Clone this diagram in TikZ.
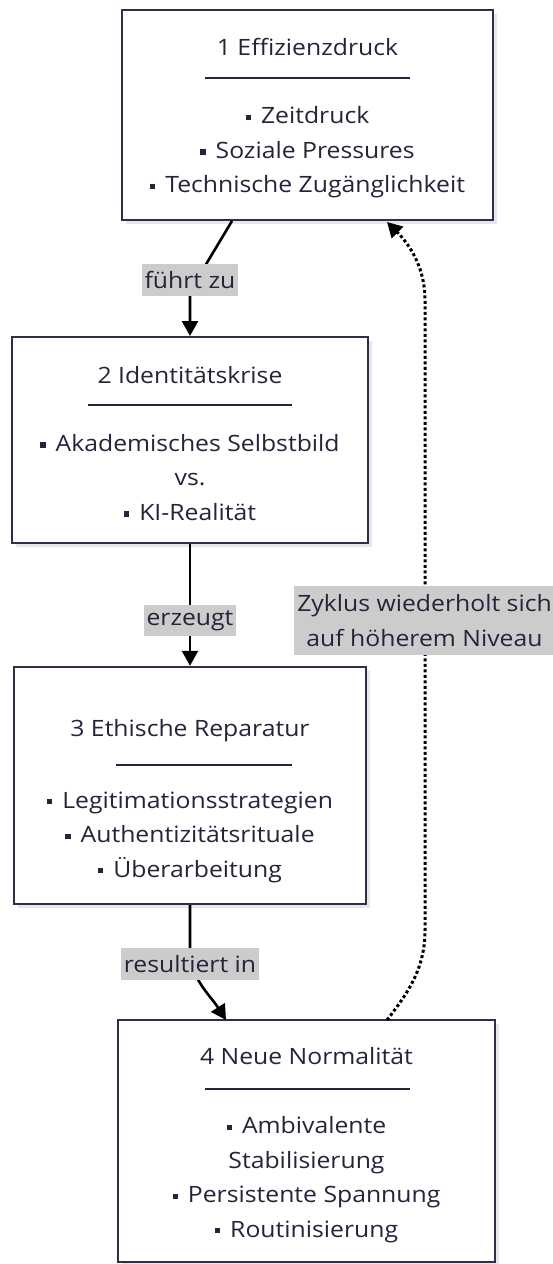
\documentclass[tikz,border=0pt]{standalone}
\usepackage{fontspec}
\setmainfont{Open Sans}[FakeStretch=1.1]
\usetikzlibrary{arrows.meta,shadows}
\definecolor{boxline}{HTML}{2E2E45}
\definecolor{txt}{HTML}{24243A}
\definecolor{lblbg}{HTML}{CCCCCC}
\definecolor{shad}{HTML}{E6E6EC}
\newcommand{\bul}{\raisebox{0.17em}{\rule{0.23em}{0.23em}}\hspace{0.45em}}
\tikzset{
  stagebox/.style={draw=boxline, line width=2.4pt, fill=white, rectangle, inner sep=0pt,
    drop shadow={shadow xshift=4pt, shadow yshift=-4pt, fill=shad, opacity=1}},
  boxtitle/.style={text=txt, font=\fontsize{22.5}{34.5}\selectfont, inner sep=0pt},
  boxitems/.style={text=txt, font=\fontsize{22.5}{34.5}\selectfont, align=center, inner sep=0pt},
  sep/.style={draw=txt, line width=1.8pt},
  flow/.style={draw=black, line width=2.6pt, -{Triangle[length=15pt,width=16pt]}},
  loop/.style={draw=black, line width=3pt, dash pattern=on 3pt off 2.5pt, -{Triangle[length=15pt,width=16pt]}},
  lbl/.style={fill=lblbg, text=txt, font=\fontsize{22.5}{34.5}\selectfont, inner xsep=3pt, inner ysep=0pt, align=center}
}
\begin{document}
\begin{tikzpicture}[x=1pt,y=-1pt]
\useasboundingbox (0,0) rectangle (553,1264);
% boxes
\node[stagebox, minimum width=371pt, minimum height=210pt] (b1) at (307.5,115) {};
\node[stagebox, minimum width=356pt, minimum height=206pt] (b2) at (190,440) {};
\node[stagebox, minimum width=352pt, minimum height=237pt] (b3) at (190,785.5) {};
\node[stagebox, minimum width=377pt, minimum height=242pt] (b4) at (306.5,1141) {};
% box 1 content
\node[boxtitle] (t1) at (307.5,47) {1 Effizienzdruck};
\draw[sep] (205,78) -- (410,78);
\node[boxitems] (i1) at (307.5,152.5) {\bul Zeitdruck\\\bul Soziale Pressures\\\bul Technische Zugänglichkeit};
% box 2 content
\node[boxtitle] (t2) at (190,375) {2 Identitätskrise};
\draw[sep] (88,405) -- (292,405);
\node[boxitems] (i2) at (190,477.5) {\bul Akademisches Selbstbild\\vs.\\\bul KI-Realität};
% box 3 content
\node[boxtitle] (t3) at (190,731) {3 Ethische Reparatur};
\draw[sep] (116,765) -- (292,765);
\node[boxitems] (i3) at (190,837) {\bul Legitimationsstrategien\\\bul Authentizitätsrituale\\\bul Überarbeitung};
% box 4 content
\node[boxtitle] (t4) at (306.5,1056) {4 Neue Normalität};
\draw[sep] (205,1089) -- (410,1089);
\node[boxitems] (i4) at (306.5,1179.5) {\bul Ambivalente\\Stabilisierung\\\bul Persistente Spannung\\\bul Routinisierung};
% connector anchor points
\coordinate (s12) at (232,221);
\coordinate (e12) at (190,336);
\coordinate (s34) at (190,905);
\coordinate (e34) at (226,1020);
\coordinate (s41) at (387,1020);
\coordinate (e41) at (387,222);
% connectors
\draw[flow] (s12) -- (190,291) -- (e12);
\draw[flow] (b2.south) -- (b3.north);
\draw[flow] (s34) -- (190,950) .. controls (190,978) and (210,995) .. (e34);
\draw[loop] (s41) .. controls (412,988) and (425,965) .. (425,930) -- (425,300) .. controls (425,268) and (410,245) .. (e41);
% labels
\node[lbl, minimum height=32pt] (l12) at (190,280) {führt zu};
\node[lbl, minimum height=31pt] (l23) at (190,620.5) {erzeugt};
\node[lbl, minimum height=32pt] (l34) at (190,964) {resultiert in};
\node[lbl, minimum height=69pt, minimum width=257pt] (l41) at (424.5,620.5) {Zyklus wiederholt sich\\auf höherem Niveau};
\end{tikzpicture}
\end{document}
